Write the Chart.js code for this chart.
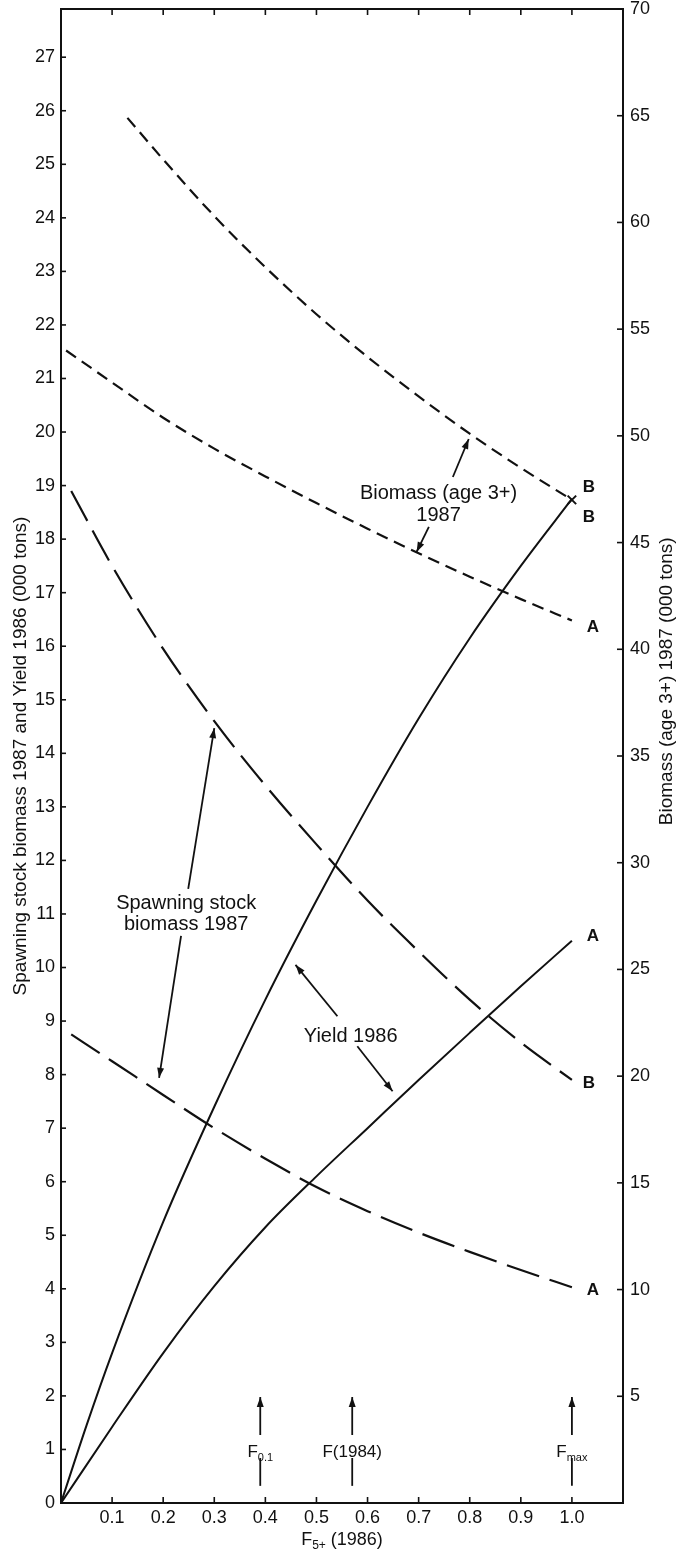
<!DOCTYPE html>
<html><head><meta charset="utf-8">
<script src="https://cdn.jsdelivr.net/npm/chart.js@4"></script>
<style>html,body{margin:0;padding:0;background:#fff}#wrap{width:680px;height:1552px}</style>
</head><body><div id="wrap"><canvas id="c" width="680" height="1552"></canvas></div>
<script>
// ---- data ----
const biomassB_F = [0.13, 0.2, 0.3, 0.4, 0.5, 0.6, 0.7, 0.8, 0.9, 1.0];
const biomassB   = [64.9, 62.95, 60.3, 57.9, 55.7, 53.7, 51.85, 50.1, 48.5, 47.0];
const biomassA_F = [0.01, 0.1, 0.2, 0.3, 0.4, 0.5, 0.6, 0.7, 0.8, 0.9, 1.0];
const biomassA   = [54.0, 52.5, 50.85, 49.4, 48.1, 46.85, 45.65, 44.5, 43.4, 42.35, 41.35];
const spawnB_F   = [0.02, 0.1, 0.2, 0.3, 0.4, 0.5, 0.6, 0.7, 0.8, 0.9, 1.0];
const spawnB     = [18.9, 17.5, 15.95, 14.6, 13.4, 12.3, 11.25, 10.3, 9.4, 8.6, 7.9];
const spawnA_F   = [0.02, 0.1, 0.2, 0.3, 0.4, 0.5, 0.6, 0.7, 0.8, 0.9, 1.0];
const spawnA     = [8.75, 8.25, 7.62, 7.0, 6.43, 5.9, 5.45, 5.05, 4.69, 4.35, 4.03];
const yieldB_F   = [0, 0.05, 0.1, 0.2, 0.3, 0.4, 0.5, 0.6, 0.7, 0.8, 0.9, 1.0];
const yieldB     = [0, 1.45, 2.8, 5.25, 7.4, 9.4, 11.25, 13.0, 14.65, 16.15, 17.5, 18.75];
const yieldA_F   = [0, 0.1, 0.2, 0.3, 0.4, 0.5, 0.6, 0.7, 0.8, 0.9, 1.0];
const yieldA     = [0, 1.42, 2.8, 4.05, 5.15, 6.1, 7.0, 7.9, 8.78, 9.65, 10.5];

const xTitle = {main: 'F', sub: '5+', rest: ' (1986)'};
const yLeftTitle = 'Spawning stock biomass 1987 and Yield 1986 (000 tons)';
const yRightTitle = 'Biomass (age 3+) 1987 (000 tons)';

// reference-point markers on the F axis
const fMarkers = [
  {f: 0.39, main: 'F', sub: '0.1'},
  {f: 0.57, main: 'F(1984)', sub: ''},
  {f: 1.0,  main: 'F', sub: 'max'}
];
// curve end labels (data coords, left axis)
const endLabels = [
  {t: 'B', f: 1.033, v: 18.97}, {t: 'B', f: 1.033, v: 18.41},
  {t: 'A', f: 1.041, v: 16.36}, {t: 'A', f: 1.041, v: 10.59},
  {t: 'B', f: 1.033, v: 7.84},  {t: 'A', f: 1.041, v: 3.98}
];
// text annotations (data coords, left axis)
const notes = [
  {lines: ['Biomass (age 3+)', '1987'], f: 0.739, v: [18.86, 18.45]},
  {lines: ['Spawning stock', 'biomass 1987'], f: 0.245, v: [11.2, 10.81]},
  {lines: ['Yield 1986'], f: 0.567, v: [8.72]}
];
// annotation arrows [f1, v1, f2(tip), v2(tip)]
const arrows = [
  [0.767, 19.16, 0.798, 19.87], [0.720, 18.23, 0.696, 17.76],
  [0.249, 11.47, 0.300, 14.47], [0.235, 10.59, 0.192, 7.94],
  [0.541, 9.09, 0.459, 10.05],  [0.580, 8.53, 0.649, 7.69]
];

// ---- chart ----
const FF = '"Liberation Sans", Arial, Helvetica, sans-serif';
const INK = '#111';
const pts = (xs, ys) => xs.map((v, i) => ({x: v, y: ys[i]}));

function arrow(ctx, x1, y1, x2, y2) {
  ctx.beginPath(); ctx.moveTo(x1, y1); ctx.lineTo(x2, y2); ctx.stroke();
  const a = Math.atan2(y2 - y1, x2 - x1), L = 10, W = 3.5;
  ctx.beginPath();
  ctx.moveTo(x2, y2);
  ctx.lineTo(x2 - L * Math.cos(a) + W * Math.sin(a), y2 - L * Math.sin(a) - W * Math.cos(a));
  ctx.lineTo(x2 - L * Math.cos(a) - W * Math.sin(a), y2 - L * Math.sin(a) + W * Math.cos(a));
  ctx.closePath(); ctx.fill();
}
function subText(ctx, cx, cy, main, sub, rest, size, subSize) {
  ctx.font = size + 'px ' + FF; const w1 = ctx.measureText(main).width;
  const w3 = rest ? ctx.measureText(rest).width : 0;
  ctx.font = subSize + 'px ' + FF; const w2 = sub ? ctx.measureText(sub).width : 0;
  let x0 = cx - (w1 + w2 + w3) / 2;
  const base = cy + size * 0.36;
  ctx.textAlign = 'left'; ctx.textBaseline = 'alphabetic';
  ctx.font = size + 'px ' + FF; ctx.fillText(main, x0, base); x0 += w1;
  if (sub) { ctx.font = subSize + 'px ' + FF; ctx.fillText(sub, x0, base + size * 0.2); x0 += w2; }
  if (rest) { ctx.font = size + 'px ' + FF; ctx.fillText(rest, x0, base); }
}

const overlay = {
  id: 'overlay',
  afterDatasetsDraw(chart) {
    const {ctx, chartArea: a, scales: {x, y, y2}} = chart;
    ctx.save();
    ctx.strokeStyle = INK; ctx.fillStyle = INK; ctx.lineCap = 'butt';
    // frame
    ctx.lineWidth = 2;
    ctx.strokeRect(a.left, a.top, a.right - a.left, a.bottom - a.top);
    const seg = (x1, y1, x2, y2) => { ctx.beginPath(); ctx.moveTo(x1, y1); ctx.lineTo(x2, y2); ctx.stroke(); };
    ctx.lineWidth = 1.6;
    x.ticks.forEach(t => {
      if (t.value < 0.05 || t.value > 1.05) return;
      const px = x.getPixelForValue(t.value);
      seg(px, a.bottom, px, a.bottom - 6); seg(px, a.top, px, a.top + 6);
    });
    y.ticks.forEach(t => { const py = y.getPixelForValue(t.value); seg(a.left, py, a.left + 5, py); });
    y2.ticks.forEach(t => { if (t.value <= 0) return; const py = y2.getPixelForValue(t.value); seg(a.right, py, a.right - 6, py); });

    // annotation arrows
    ctx.lineWidth = 1.8;
    arrows.forEach(r => arrow(ctx, x.getPixelForValue(r[0]), y.getPixelForValue(r[1]), x.getPixelForValue(r[2]), y.getPixelForValue(r[3])));
    // notes
    ctx.font = '20px ' + FF; ctx.textAlign = 'center'; ctx.textBaseline = 'middle';
    notes.forEach(n => n.lines.forEach((s, i) => ctx.fillText(s, x.getPixelForValue(n.f), y.getPixelForValue(n.v[i]))));
    // end labels
    ctx.font = 'bold 17px ' + FF;
    endLabels.forEach(l => ctx.fillText(l.t, x.getPixelForValue(l.f), y.getPixelForValue(l.v)));
    // F markers
    fMarkers.forEach(m => {
      const px = x.getPixelForValue(m.f);
      ctx.lineWidth = 1.8;
      arrow(ctx, px, y.getPixelForValue(1.27), px, y.getPixelForValue(1.98));
      seg(px, y.getPixelForValue(0.84), px, y.getPixelForValue(0.32));
      ctx.fillStyle = INK;
      subText(ctx, px, y.getPixelForValue(0.97), m.main, m.sub, '', 17, 11);
    });
    // axis titles
    subText(ctx, (a.left + a.right) / 2, 1539, xTitle.main, xTitle.sub, xTitle.rest, 18, 12);
    ctx.font = '19px ' + FF; ctx.textAlign = 'center'; ctx.textBaseline = 'middle';
    ctx.save(); ctx.translate(21, (a.top + a.bottom) / 2); ctx.rotate(-Math.PI / 2);
    ctx.fillText(yLeftTitle, 0, 0); ctx.restore();
    ctx.save(); ctx.translate(667, y2.getPixelForValue(38.5)); ctx.rotate(-Math.PI / 2);
    ctx.fillText(yRightTitle, 0, 0); ctx.restore();
    ctx.restore();
  }
};

const common = {borderColor: INK, backgroundColor: INK, fill: false, pointRadius: 0, cubicInterpolationMode: 'monotone'};
new Chart(document.getElementById('c'), {
  type: 'line',
  data: {
    datasets: [
      Object.assign({}, common, {label: 'Biomass (age 3+) 1987 B', data: pts(biomassB_F, biomassB), yAxisID: 'y2', borderDash: [12, 7], borderWidth: 2.2,
        pointRadius: biomassB.map((v, i) => i === biomassB.length - 1 ? 6 : 0), pointStyle: 'crossRot', pointBorderWidth: 2, pointBorderColor: INK}),
      Object.assign({}, common, {label: 'Biomass (age 3+) 1987 A', data: pts(biomassA_F, biomassA), yAxisID: 'y2', borderDash: [12, 7], borderWidth: 2.2}),
      Object.assign({}, common, {label: 'Spawning stock biomass 1987 B', data: pts(spawnB_F, spawnB), yAxisID: 'y', borderDash: [34, 11], borderWidth: 2.2}),
      Object.assign({}, common, {label: 'Spawning stock biomass 1987 A', data: pts(spawnA_F, spawnA), yAxisID: 'y', borderDash: [34, 11], borderWidth: 2.2}),
      Object.assign({}, common, {label: 'Yield 1986 B', data: pts(yieldB_F, yieldB), yAxisID: 'y', borderWidth: 2}),
      Object.assign({}, common, {label: 'Yield 1986 A', data: pts(yieldA_F, yieldA), yAxisID: 'y', borderWidth: 2})
    ]
  },
  options: {
    responsive: false, animation: false, devicePixelRatio: 1,
    layout: {padding: {top: 9, left: 0, right: 0, bottom: 0}},
    plugins: {legend: {display: false}, tooltip: {enabled: false}},
    scales: {
      x: {type: 'linear', min: 0, max: 1.1, grid: {display: false, drawTicks: false}, border: {display: false},
        ticks: {stepSize: 0.1, autoSkip: false, maxRotation: 0, color: INK, padding: 4, font: {family: FF, size: 18},
          callback: v => (v < 0.05 || v > 1.05) ? '' : v.toFixed(1)},
        afterFit: s => { s.height = 49; }},
      y: {position: 'left', min: 0, max: 27.9, grid: {display: false, drawTicks: false}, border: {display: false},
        ticks: {stepSize: 1, autoSkip: false, includeBounds: false, color: INK, padding: 6, font: {family: FF, size: 18, lineHeight: 0.3}},
        afterFit: s => { s.width = 61; }},
      y2: {position: 'right', min: 0, max: 70, grid: {display: false, drawTicks: false}, border: {display: false},
        ticks: {stepSize: 5, autoSkip: false, color: INK, padding: 7, font: {family: FF, size: 18, lineHeight: 0.2},
          callback: v => v === 0 ? '' : String(v)},
        afterFit: s => { s.width = 57; }}
    }
  },
  plugins: [overlay]
});
</script></body></html>
